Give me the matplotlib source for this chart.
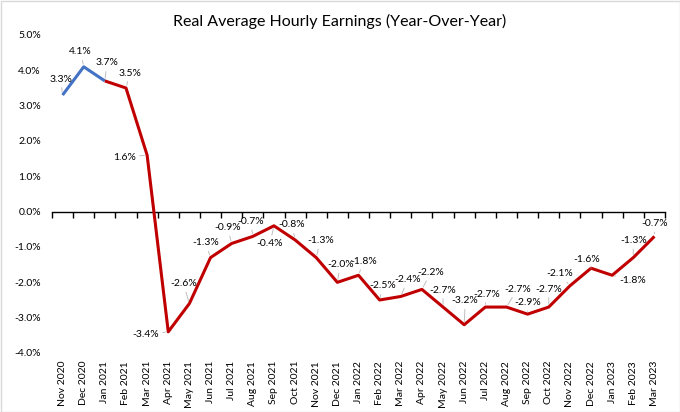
import matplotlib
matplotlib.use("Agg")
import matplotlib.pyplot as plt
from matplotlib.patches import Rectangle
import matplotlib.transforms as mtransforms

months = ["Nov 2020", "Dec 2020", "Jan 2021", "Feb 2021", "Mar 2021", "Apr 2021",
          "May 2021", "Jun 2021", "Jul 2021", "Aug 2021", "Sep 2021", "Oct 2021",
          "Nov 2021", "Dec 2021", "Jan 2022", "Feb 2022", "Mar 2022", "Apr 2022",
          "May 2022", "Jun 2022", "Jul 2022", "Aug 2022", "Sep 2022", "Oct 2022",
          "Nov 2022", "Dec 2022", "Jan 2023", "Feb 2023", "Mar 2023"]
values = [3.3, 4.1, 3.7, 3.5, 1.6, -3.4, -2.6, -1.3, -0.9, -0.7, -0.4, -0.8,
          -1.3, -2.0, -1.8, -2.5, -2.4, -2.2, -2.7, -3.2, -2.7, -2.7, -2.9, -2.7,
          -2.1, -1.6, -1.8, -1.3, -0.7]
blue_end = 2  # index where blue segment ends and red begins
y_ticks = [5, 4, 3, 2, 1, 0, -1, -2, -3, -4]

# data label offsets in pixels (dx, dy) with dy positive upward
label_offsets = [(-2, 16), (-3, 15), (2, 18), (4, 15), (-23, -2), (-23, -3),
                 (-6, 20), (-5, 15), (-4, 16), (-2, 15), (-4, -18), (-3, 15),
                 (4, 17), (3, 18), (5, 14), (3, 14), (7, 17), (9, 17),
                 (0, 17), (1, 24), (1, 13), (11, 18), (0, 12), (0, 18),
                 (-10, 12), (-4, 9), (21, -5), (0, 17), (0, 13)]

plt.rcParams['font.family'] = ['Lato', 'DejaVu Sans']

fig = fig = plt.figure(figsize=(6.8, 4.12), dpi=100)
ax = fig.add_axes([52/680, 1-353/412, (665-52)/680, (353-35)/412])

x = list(range(len(values)))
blue = "#4472C4"
red = "#C00000"
ax.plot(x[:blue_end+1], values[:blue_end+1], color=blue, lw=2.2, solid_capstyle='butt', zorder=3)
ax.plot(x[blue_end:], values[blue_end:], color=red, lw=2.2, solid_capstyle='butt', zorder=3)

ax.set_xlim(-0.5, len(values) - 0.5)
ax.set_ylim(-4, 5)
ax.set_yticks(y_ticks)
ax.set_yticklabels([f"{v:.1f}%" for v in y_ticks], fontsize=7.5, color="#000000")
ax.tick_params(axis='y', length=0, pad=8)

for s in ['top', 'right', 'left']:
    ax.spines[s].set_visible(False)
ax.spines['bottom'].set_position(('data', 0))
ax.spines['bottom'].set_color('black')
ax.spines['bottom'].set_linewidth(1.0)
ax.set_xticks([i - 0.5 for i in range(len(values) + 1)])
ax.set_xticklabels([])
ax.tick_params(axis='x', length=4, width=1.0, direction='out', color='black')

trans = mtransforms.blended_transform_factory(ax.transData, ax.transAxes)
for i, m in enumerate(months):
    ax.text(i, -0.025, m, rotation=90, ha='center', va='top', fontsize=7.5,
            transform=trans)

for i, v in enumerate(values):
    dx, dy = label_offsets[i]
    ax.annotate(f"{v:.1f}%", xy=(i, v), xytext=(dx, dy), textcoords='offset pixels',
                ha='center', va='center', fontsize=7.5, color='#000000', zorder=4,
                arrowprops=dict(arrowstyle='-', color='#BFBFBF', lw=0.7,
                                shrinkA=1, shrinkB=2))

fig.text(0.5, 1 - 21/412, "Real Average Hourly Earnings (Year-Over-Year)",
         ha='center', va='center', fontsize=11.5, color='#000000')

fig.patches.append(Rectangle((0.5/680, 0.5/412), 1 - 1/680, 1 - 1/412,
                             transform=fig.transFigure, fill=False,
                             edgecolor='#D9D9D9', lw=1.0))

fig.savefig("out.png", dpi=100)
